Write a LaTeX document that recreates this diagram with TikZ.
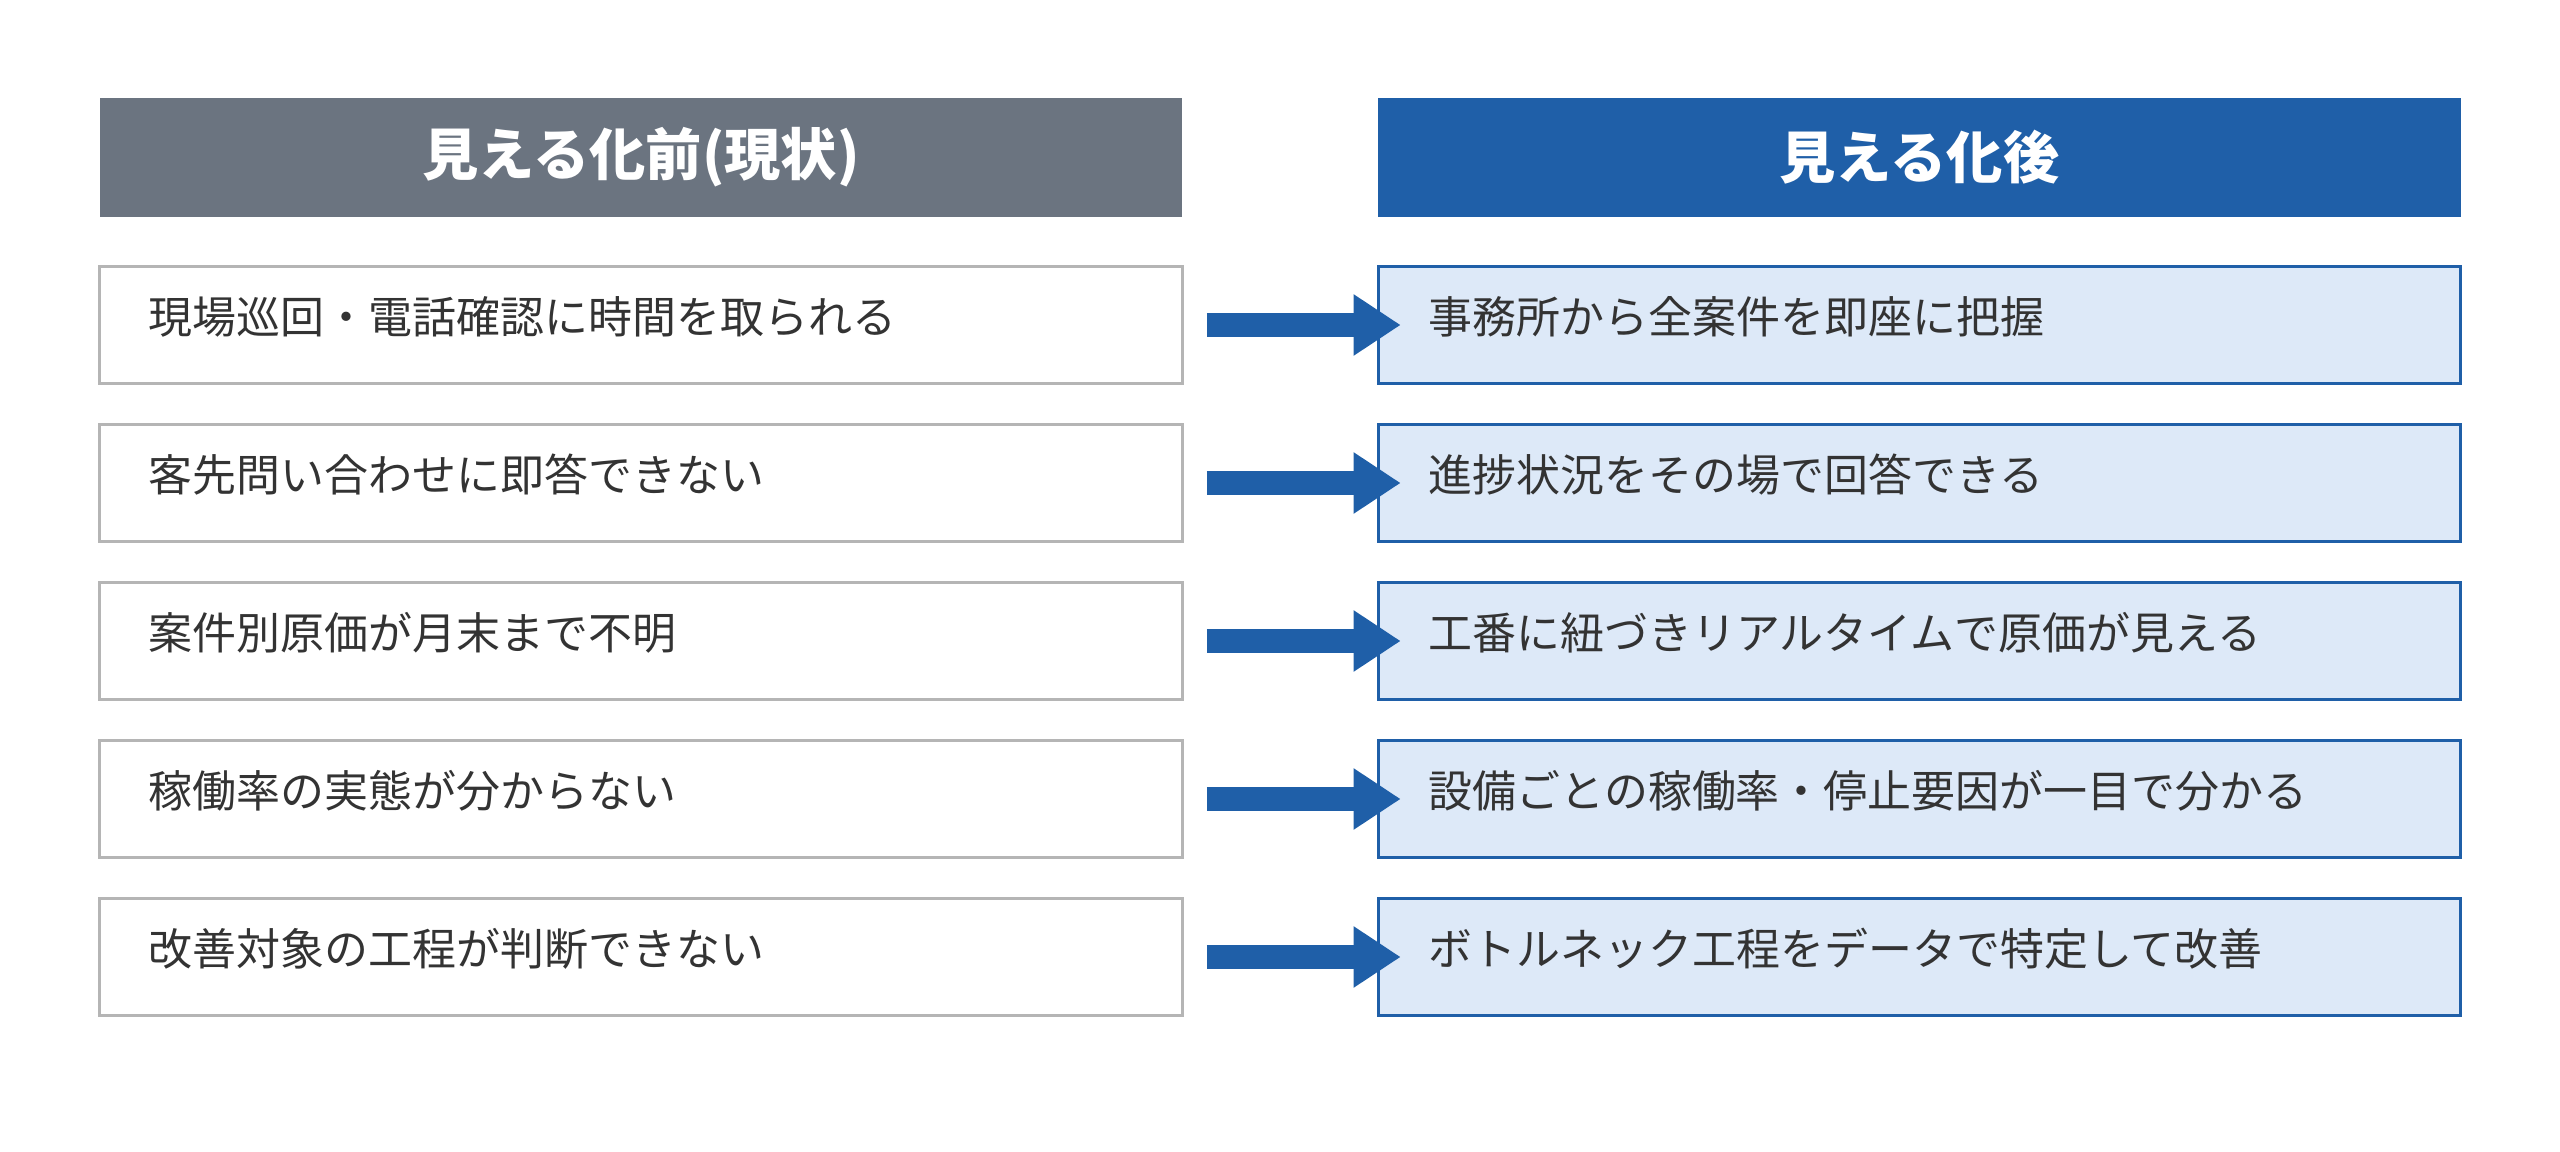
\documentclass[tikz,border=0pt]{standalone}
\usepackage{fontspec}
\setmainfont{Noto Sans CJK JP}
\usetikzlibrary{arrows.meta,calc}
\definecolor{hgray}{HTML}{6B7480}
\definecolor{hblue}{HTML}{1F5FA8}
\definecolor{lblue}{HTML}{DDE9F8}
\definecolor{bgray}{HTML}{B5B5B5}
\definecolor{tx}{HTML}{333333}
\begin{document}
\begin{tikzpicture}[x=0.01cm,y=-0.01cm,
 head/.style={minimum width=10.82cm,minimum height=1.19cm,inner sep=0,text=white,font=\fontsize{16}{18}\selectfont\bfseries},
 lbox/.style={draw=bgray,line width=0.03cm,fill=white,minimum width=10.82cm,minimum height=1.16cm,inner sep=0},
 rbox/.style={draw=hblue,line width=0.03cm,fill=lblue,minimum width=10.82cm,minimum height=1.16cm,inner sep=0},
 lbl/.style={anchor=west,text=tx,font=\fontsize{12.5}{14}\selectfont,inner sep=0},
 arr/.style={hblue,line width=0.24cm,-{Triangle[length=0.47cm,width=0.58cm]}}]
\useasboundingbox (0,0) rectangle (2560,1152);
\node[head,fill=hgray] (hl) at (641,157.5) {見える化前(現状)};
\node[head,fill=hblue] (hr) at (1919.5,157.5) {見える化後};
\foreach \i/\a/\b in {
 1/現場巡回・電話確認に時間を取られる/事務所から全案件を即座に把握,
 2/客先問い合わせに即答できない/進捗状況をその場で回答できる,
 3/案件別原価が月末まで不明/工番に紐づきリアルタイムで原価が見える,
 4/稼働率の実態が分からない/設備ごとの稼働率・停止要因が一目で分かる,
 5/改善対象の工程が判断できない/ボトルネック工程をデータで特定して改善}{
 \pgfmathsetmacro\yy{325+158*(\i-1)}
 \node[lbox] (l\i) at (641,\yy) {};
 \node[rbox] (r\i) at (1919.5,\yy) {};
 \node[lbl] (lt\i) at (148,\yy-8) {\a};
 \node[lbl] (rt\i) at (1428,\yy-8) {\b};
 \draw[arr] ($(l\i.east)+(23,0)$) -- ($(r\i.west)+(24,0)$);
}
\end{tikzpicture}
\end{document}
